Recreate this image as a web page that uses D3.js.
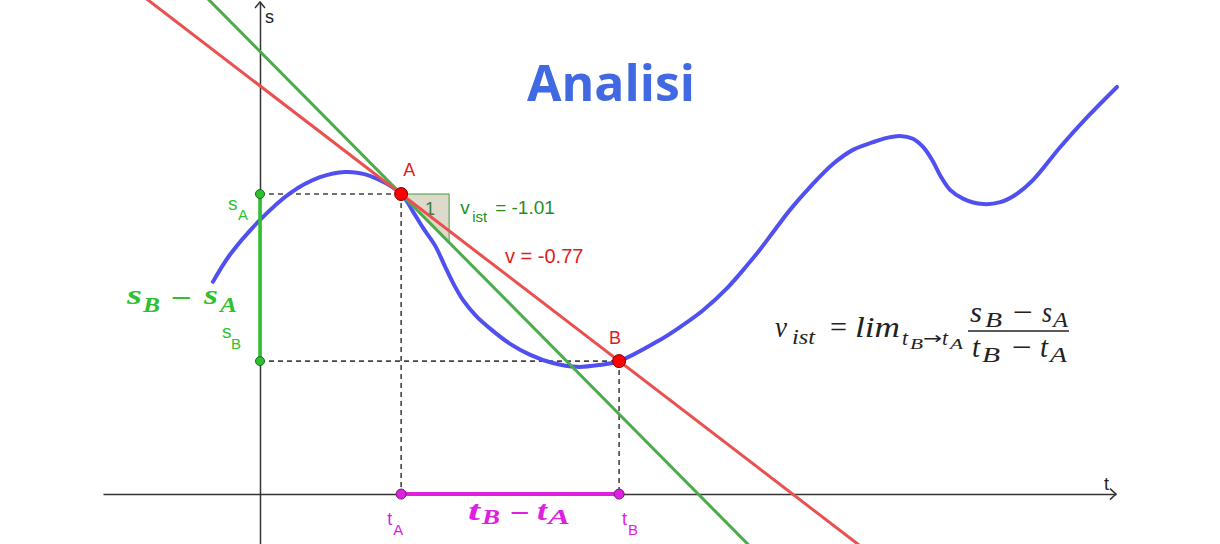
<!DOCTYPE html>
<html><head><meta charset="utf-8">
<script src="https://cdn.jsdelivr.net/npm/d3@7"></script>
<style>body{margin:0;background:#fff}svg{display:block}</style>
</head><body>
<script>
// ---- data (units of the t/s plane) ----
const curveT = [-0.98,-0.63,0,0.63,1.25,1.77,2.29,2.94,3.19,3.40,3.65,3.85,4.02,4.23,4.52,4.85,5.21,5.63,6.10,6.60,7.08,7.48,8.33,8.75,9.23,9.73,10.15,10.42,10.69,11.04,11.46,11.94,12.35,12.77,13.06,13.33,13.60,13.81,14.00,14.19,14.38,14.65,15.06,15.42,15.73,16.10,16.67,17.23,17.85];
const curveS = [4.42,4.98,5.71,6.27,6.60,6.71,6.63,6.25,5.88,5.54,5.17,4.75,4.40,4.04,3.69,3.40,3.13,2.90,2.73,2.65,2.69,2.77,3.21,3.48,3.83,4.29,4.77,5.10,5.46,5.92,6.40,6.88,7.17,7.33,7.42,7.46,7.40,7.23,6.96,6.60,6.33,6.15,6.04,6.08,6.23,6.54,7.23,7.85,8.48];
const pointA = {t: 2.94, s: 6.25};
const pointB = {t: 7.48, s: 2.77};
const vInst = -1.01;
const titleText = "Analisi";

const W = 1220, H = 544;
const svg = d3.select("body").append("svg").attr("width", W).attr("height", H);

const x = d3.scaleLinear().domain([-3.27, 17.83]).range([103, 1116]);
const y = d3.scaleLinear().domain([-1.04, 10.25]).range([544, 2]);

const vAvg = (pointB.s - pointA.s) / (pointB.t - pointA.t);

// colours
const cBlue = "#5050f0", cRed = "#eb5050", cGreenLine = "#4cab4c", cGreen = "#2ec02e",
      cDarkGreen = "#1f8f1f", cMag = "#e020e0", cRedText = "#e01c1c", cAxis = "#333";

// ---- axes ----
const gx = svg.append("g").attr("transform", `translate(0,${y(0)})`)
  .call(d3.axisBottom(x).tickValues([]).tickSizeOuter(0));
const gy = svg.append("g").attr("transform", `translate(${x(0)},0)`)
  .call(d3.axisLeft(y).tickValues([]).tickSizeOuter(0));
[gx, gy].forEach(g => g.select(".domain").attr("stroke", cAxis).attr("stroke-width", 1.5));
const xEnd = x.range()[1], yTop = y.range()[1];
svg.append("path").attr("d", `M${xEnd-6},${y(0)-5.5}L${xEnd},${y(0)}L${xEnd-6},${y(0)+5.5}`)
  .attr("fill", "none").attr("stroke", cAxis).attr("stroke-width", 1.5);
svg.append("path").attr("d", `M${x(0)-5},${yTop+6}L${x(0)},${yTop}L${x(0)+5},${yTop+6}`)
  .attr("fill", "none").attr("stroke", cAxis).attr("stroke-width", 1.5);

const sans = "'Liberation Sans', Arial, sans-serif";
const serif = "'Liberation Serif', 'DejaVu Serif', serif";
function put(str, px, py, size, color, opts = {}) {
  const t = svg.append("text").attr("x", px).attr("y", py).text(str)
    .style("font-family", opts.family || sans).style("font-size", size + "px").attr("fill", color)
    .style("font-style", opts.italic ? "italic" : "normal").style("font-weight", opts.bold ? "bold" : "normal")
    .attr("text-anchor", opts.anchor || "start");
  if (opts.len) t.attr("textLength", opts.len).attr("lengthAdjust", "spacingAndGlyphs");
  return t;
}
// glyph spanning x0..x1 at baseline
function piece(str, x0, x1, base, size, color, opts = {}) {
  return put(str, x0, base, size, color, Object.assign({}, opts, {len: x1 - x0}));
}
put("s", x(0)+5, 23, 18, "#222");
put("t", xEnd-12, 490, 18, "#222");

// ---- dashed guides ----
const dash = svg.append("g").attr("stroke", "#444").attr("stroke-width", 1.6).attr("stroke-dasharray", "5,4").attr("fill", "none");
[pointA, pointB].forEach(p => {
  dash.append("line").attr("x1", x(0)).attr("x2", x(p.t)).attr("y1", y(p.s)).attr("y2", y(p.s));
  dash.append("line").attr("x1", x(p.t)).attr("x2", x(p.t)).attr("y1", y(p.s)).attr("y2", y(0));
});

// ---- slope triangle ----
svg.append("path")
  .attr("d", d3.line()([[x(pointA.t), y(pointA.s)], [x(pointA.t+1), y(pointA.s)], [x(pointA.t+1), y(pointA.s+vInst)]]) + "Z")
  .attr("fill", "#dedacb").attr("stroke", "#3a9a3a").attr("stroke-width", 1);
put("1", x(pointA.t+0.6), y(pointA.s)+21, 18, "#3a7a3a", {anchor: "middle"});

// ---- curve ----
const curveData = curveT.map((t, i) => [t, curveS[i]]);
svg.append("path").datum(curveData)
  .attr("d", d3.line().x(d => x(d[0])).y(d => y(d[1])).curve(d3.curveCatmullRom.alpha(0.5)))
  .attr("fill", "none").attr("stroke", cBlue).attr("stroke-width", 4).attr("stroke-linecap", "round");

// ---- tangent and secant ----
function lineThrough(p, m, t0, t1) {
  return [[x(t0), y(p.s + m*(t0-p.t))], [x(t1), y(p.s + m*(t1-p.t))]];
}
svg.append("path").attr("d", d3.line()(lineThrough(pointA, vInst, -6, 20)))
  .attr("stroke", cGreenLine).attr("stroke-width", 3).attr("fill", "none");
svg.append("path").attr("d", d3.line()(lineThrough(pointA, vAvg, -6, 20)))
  .attr("stroke", cRed).attr("stroke-width", 3).attr("fill", "none");

// ---- thick segments ----
svg.append("line").attr("x1", x(0)).attr("x2", x(0)).attr("y1", y(pointA.s)).attr("y2", y(pointB.s))
  .attr("stroke", cGreen).attr("stroke-width", 3.5);
svg.append("line").attr("x1", x(pointA.t)).attr("x2", x(pointB.t)).attr("y1", y(0)).attr("y2", y(0))
  .attr("stroke", cMag).attr("stroke-width", 4);

// ---- points ----
[[0, pointA.s], [0, pointB.s]].forEach(d => svg.append("circle").attr("cx", x(d[0])).attr("cy", y(d[1])).attr("r", 4.5)
  .attr("fill", cGreen).attr("stroke", "#1a6a1a").attr("stroke-width", 1));
[[pointA.t, 0], [pointB.t, 0]].forEach(d => svg.append("circle").attr("cx", x(d[0])).attr("cy", y(d[1])).attr("r", 5)
  .attr("fill", cMag).attr("stroke", "#702070").attr("stroke-width", 1));
[pointA, pointB].forEach(p => svg.append("circle").attr("cx", x(p.t)).attr("cy", y(p.s)).attr("r", 6.5)
  .attr("fill", "#ff0000").attr("stroke", "#7a0000").attr("stroke-width", 1));

// point labels
put("A", x(pointA.t)+2, y(pointA.s)-18, 18, cRedText);
put("B", x(pointB.t)-10, y(pointB.s)-17, 18, cRedText);
put("s", x(0)-32, y(pointA.s)+16, 19, cGreen); put("A", x(0)-22, y(pointA.s)+26, 15, cGreen);
put("s", x(0)-38, y(pointB.s)-23, 19, cGreen); put("B", x(0)-29, y(pointB.s)-12, 15, cGreen);
put("t", x(pointA.t)-14, y(0)+31, 18, cMag); put("A", x(pointA.t)-8, y(0)+41, 15, cMag);
put("t", x(pointB.t)+3, y(0)+31, 18, cMag); put("B", x(pointB.t)+9, y(0)+41, 15, cMag);

// slope labels
put("v", x(pointA.t)+59, y(pointA.s)+20, 19, cDarkGreen);
put("ist", x(pointA.t)+71, y(pointA.s)+28, 15, cDarkGreen);
put("= " + vInst.toFixed(2), x(pointA.t)+94, y(pointA.s)+20, 19, cDarkGreen);
put("v = " + vAvg.toFixed(2), 505, 263, 20, cRedText);

// big bold math labels
const bm = {family: serif, italic: true, bold: true};
const bmr = {family: serif, bold: true};
piece("s", 127, 142, 304, 27, cGreen, bm); piece("B", 143, 160, 312, 22, cGreen, bm);
piece("−", 171, 192, 307, 28, cGreen, bmr);
piece("s", 204, 218, 304, 27, cGreen, bm); piece("A", 220, 237, 312, 22, cGreen, bm);

piece("t", 468, 480, 520, 28, cMag, bm); piece("B", 482, 500, 524, 22, cMag, bm);
piece("−", 510, 530, 522, 28, cMag, bmr);
piece("t", 537, 547, 520, 28, cMag, bm); piece("A", 548, 570, 524, 22, cMag, bm);

// formula
const fm = {family: serif, italic: true};
const fr = {family: serif};
const fc = "#222";
piece("v", 775, 787, 337, 30, fc, fm);
piece("ist", 792, 815, 344, 20, fc, fm);
piece("=", 830, 847, 337, 30, fc, fr);
piece("lim", 855, 900, 337, 30, fc, fm);
piece("t", 902, 908, 345, 20, fc, fm); piece("B", 910, 923, 349, 15, fc, fm);
piece("→", 923, 942, 344, 17, fc, {family: "'DejaVu Sans', sans-serif"});
piece("t", 942, 948, 345, 20, fc, fm); piece("A", 950, 963, 349, 15, fc, fm);
// numerator
piece("s", 970, 982, 322, 30, fc, fm); piece("B", 985, 1002, 327, 20, fc, fm);
piece("−", 1013, 1033, 322, 30, fc, fr);
piece("s", 1042, 1052, 322, 30, fc, fm); piece("A", 1053, 1068, 327, 20, fc, fm);
svg.append("line").attr("x1", 968).attr("x2", 1069).attr("y1", 331).attr("y2", 331).attr("stroke", fc).attr("stroke-width", 1.3);
// denominator
piece("t", 972, 980, 357, 30, fc, fm); piece("B", 982, 1000, 362, 20, fc, fm);
piece("−", 1012, 1032, 357, 30, fc, fr);
piece("t", 1040, 1048, 357, 30, fc, fm); piece("A", 1050, 1067, 362, 20, fc, fm);

// title
put(titleText, 611, 101, 51, "#4169e1", {family: "'Open Sans', sans-serif", bold: true, anchor: "middle", len: 168});
</script>
</body></html>
